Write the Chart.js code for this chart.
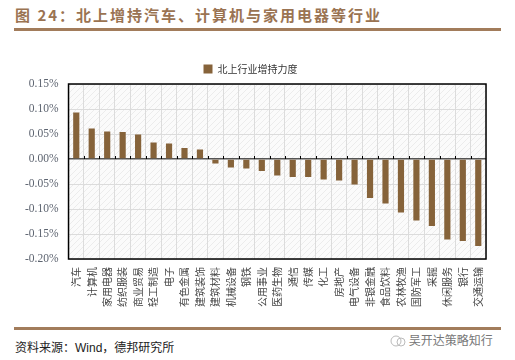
<!DOCTYPE html>
<html>
<head>
<meta charset="utf-8">
<script src="https://cdn.jsdelivr.net/npm/chart.js@4"></script>
<style>
  body { margin: 0; width: 515px; height: 360px; background: #fff; position: relative; overflow: hidden; font-family: "Noto Sans CJK SC", sans-serif; }
  #title { position: absolute; left: 15px; top: 4px; font-size: 15px; font-weight: bold; color: #9a7352; letter-spacing: 2px; white-space: nowrap; }
  .rule { position: absolute; left: 14px; width: 487px; height: 3px; background: #a27c5b; }
  #source { position: absolute; left: 15px; top: 338px; font-size: 12px; color: #222; white-space: nowrap; }
  #mark { position: absolute; left: 390px; top: 331px; font-size: 12px; color: #777; white-space: nowrap; }
  #wrap { position: absolute; left: 0; top: 36px; width: 515px; height: 290px; }
</style>
</head>
<body>
<div id="title">图 24：北上增持汽车、计算机与家用电器等行业</div>
<div class="rule" style="top:28px"></div>
<div id="wrap"><canvas id="chart"></canvas></div>
<div class="rule" style="top:327px"></div>
<div id="source">资料来源：<span style="font-family:'Liberation Sans'">Wind</span>，德邦研究所</div>
<div id="mark"><svg width="16" height="12" style="vertical-align:-2px"><circle cx="6" cy="6" r="5" fill="none" stroke="#bbb"/><circle cx="11" cy="7" r="4" fill="none" stroke="#bbb"/></svg> 吴开达策略知行</div>
<script>
// industries, left to right
const categories = ['汽车', '计算机', '家用电器', '纺织服装', '商业贸易', '轻工制造', '电子', '有色金属', '建筑装饰',
    '建筑材料', '机械设备', '钢铁', '公用事业', '医药生物', '通信', '传媒', '化工', '房地产', '电气设备',
    '非银金融', '食品饮料', '农林牧渔', '国防军工', '采掘', '休闲服务', '银行', '交通运输'];
// 北上行业增持力度, in %
const holdingChange = [0.093, 0.061, 0.055, 0.054, 0.049, 0.033, 0.031, 0.022, 0.019,
    -0.009, -0.017, -0.019, -0.024, -0.033, -0.036, -0.036, -0.041, -0.043, -0.051,
    -0.078, -0.089, -0.107, -0.123, -0.134, -0.161, -0.164, -0.174];
const yTicks = [-0.20, -0.15, -0.10, -0.05, 0.00, 0.05, 0.10, 0.15];

const barColor = '#86633a';

// faint hatched backdrop + frame + tick marks on the zero line
const plotDecor = {
    id: 'plotDecor',
    beforeDraw(chart) {
        const { ctx, chartArea: a } = chart;
        const p = document.createElement('canvas');
        p.width = 6; p.height = 6;
        const pc = p.getContext('2d');
        pc.fillStyle = '#fbfbfb';
        pc.fillRect(0, 0, 6, 6);
        pc.strokeStyle = '#ececec';
        pc.lineWidth = 1;
        pc.beginPath();
        pc.moveTo(0, 6); pc.lineTo(6, 0);
        pc.stroke();
        ctx.save();
        ctx.fillStyle = ctx.createPattern(p, 'repeat');
        ctx.fillRect(a.left, a.top, a.right - a.left, a.bottom - a.top);
        ctx.restore();
    },
    afterDraw(chart) {
        const { ctx, chartArea: a } = chart;
        const x = chart.scales.x, y = chart.scales.y;
        const y0 = y.getPixelForValue(0);
        ctx.save();
        ctx.strokeStyle = '#000';
        ctx.lineWidth = 1;
        ctx.beginPath();
        for (let i = 1; i < categories.length; i++) {
            const bx = Math.round((x.getPixelForValue(i - 1) + x.getPixelForValue(i)) / 2) + 0.5;
            ctx.moveTo(bx, y0);
            ctx.lineTo(bx, y0 - 3);
        }
        ctx.stroke();
        ctx.lineWidth = 1.5;
        ctx.strokeRect(a.left, a.top, a.right - a.left, a.bottom - a.top);
        ctx.restore();
    }
};

new Chart(document.getElementById('chart'), {
    type: 'bar',
    data: {
        labels: categories,
        datasets: [{
            label: '北上行业增持力度',
            data: holdingChange,
            backgroundColor: barColor,
            borderColor: barColor,
            borderWidth: 0,
            categoryPercentage: 1,
            barPercentage: 0.4
        }]
    },
    options: {
        responsive: true,
        maintainAspectRatio: false,
        animation: false,
        layout: { padding: { left: 15, right: 29, top: 8, bottom: 11 } },
        plugins: {
            legend: {
                labels: {
                    boxWidth: 9, boxHeight: 9, padding: 20,
                    color: '#333',
                    font: { family: 'Noto Sans CJK SC', size: 10 }
                }
            },
            tooltip: { enabled: false }
        },
        scales: {
            x: {
                grid: { color: '#dcdcdc', drawTicks: false },
                border: { display: false },
                ticks: {
                    minRotation: 90, maxRotation: 90, autoSkip: false, padding: 8,
                    color: '#444',
                    font: { family: 'Noto Sans CJK SC', size: 10 }
                }
            },
            y: {
                min: -0.2, max: 0.15,
                afterBuildTicks(scale) { scale.ticks = yTicks.map(v => ({ value: v })); },
                grid: {
                    drawTicks: false,
                    color: ctx => ctx.tick && ctx.tick.value === 0 ? '#555' : '#dcdcdc',
                    lineWidth: ctx => ctx.tick && ctx.tick.value === 0 ? 1.5 : 1
                },
                border: { display: false },
                ticks: {
                    padding: 10,
                    color: '#5d6470',
                    font: { family: 'Liberation Serif', size: 11.5 },
                    callback: v => v.toFixed(2) + '%'
                }
            }
        }
    },
    plugins: [plotDecor]
});
</script>
</body>
</html>
